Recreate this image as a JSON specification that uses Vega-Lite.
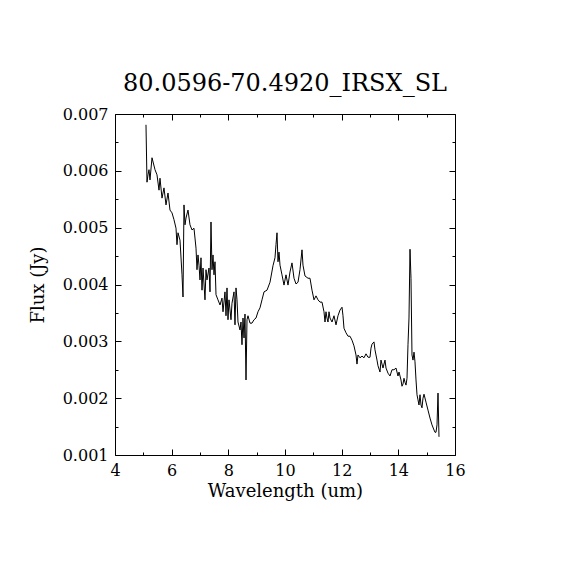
{
  "$schema": "https://vega.github.io/schema/vega-lite/v6.json",
  "autosize": "none",
  "width": 340,
  "height": 341,
  "padding": {"left": 115, "top": 114, "right": 115, "bottom": 115},
  "background": "white",
  "title": {"text": "80.0596-70.4920_IRSX_SL", "font": "DejaVu Serif", "fontSize": 24, "fontWeight": "normal", "color": "black", "offset": 10},
  "data": {"values": [
    {"w":5.094,"f":0.00681},{"w":5.129,"f":0.00580},{"w":5.165,"f":0.00593},{"w":5.200,"f":0.00602},{"w":5.235,"f":0.00584},
    {"w":5.306,"f":0.00623},{"w":5.412,"f":0.00602},{"w":5.482,"f":0.00593},{"w":5.553,"f":0.00566},{"w":5.588,"f":0.00587},
    {"w":5.659,"f":0.00552},{"w":5.729,"f":0.00570},{"w":5.800,"f":0.00540},{"w":5.871,"f":0.00561},{"w":5.941,"f":0.00531},
    {"w":6.012,"f":0.00526},{"w":6.082,"f":0.00514},{"w":6.153,"f":0.00499},{"w":6.188,"f":0.00470},{"w":6.224,"f":0.00491},
    {"w":6.294,"f":0.00478},{"w":6.365,"f":0.00417},{"w":6.400,"f":0.00378},{"w":6.435,"f":0.00540},{"w":6.471,"f":0.00505},
    {"w":6.506,"f":0.00517},{"w":6.576,"f":0.00531},{"w":6.647,"f":0.00505},{"w":6.718,"f":0.00496},{"w":6.788,"f":0.00499},
    {"w":6.859,"f":0.00464},{"w":6.894,"f":0.00426},{"w":6.929,"f":0.00452},{"w":6.965,"f":0.00434},{"w":7.000,"f":0.00408},
    {"w":7.035,"f":0.00447},{"w":7.071,"f":0.00390},{"w":7.106,"f":0.00429},{"w":7.176,"f":0.00373},{"w":7.212,"f":0.00426},
    {"w":7.247,"f":0.00408},{"w":7.318,"f":0.00429},{"w":7.353,"f":0.00387},{"w":7.388,"f":0.00510},{"w":7.424,"f":0.00426},
    {"w":7.459,"f":0.00452},{"w":7.494,"f":0.00417},{"w":7.529,"f":0.00440},{"w":7.565,"f":0.00382},{"w":7.635,"f":0.00373},
    {"w":7.706,"f":0.00364},{"w":7.776,"f":0.00376},{"w":7.812,"f":0.00352},{"w":7.882,"f":0.00387},{"w":7.918,"f":0.00345},
    {"w":7.953,"f":0.00394},{"w":7.988,"f":0.00338},{"w":8.024,"f":0.00373},{"w":8.094,"f":0.00338},{"w":8.129,"f":0.00367},
    {"w":8.200,"f":0.00387},{"w":8.235,"f":0.00329},{"w":8.271,"f":0.00394},{"w":8.306,"f":0.00373},{"w":8.341,"f":0.00334},
    {"w":8.412,"f":0.00320},{"w":8.447,"f":0.00334},{"w":8.482,"f":0.00294},{"w":8.518,"f":0.00341},{"w":8.553,"f":0.00306},
    {"w":8.588,"f":0.00348},{"w":8.624,"f":0.00232},{"w":8.659,"f":0.00338},{"w":8.694,"f":0.00345},{"w":8.765,"f":0.00332},
    {"w":8.835,"f":0.00332},{"w":8.906,"f":0.00338},{"w":8.976,"f":0.00341},{"w":9.047,"f":0.00352},{"w":9.118,"f":0.00359},
    {"w":9.188,"f":0.00373},{"w":9.259,"f":0.00387},{"w":9.365,"f":0.00390},{"w":9.471,"f":0.00404},{"w":9.576,"f":0.00433},
    {"w":9.647,"f":0.00447},{"w":9.682,"f":0.00470},{"w":9.718,"f":0.00491},{"w":9.753,"f":0.00440},{"w":9.788,"f":0.00457},
    {"w":9.824,"f":0.00434},{"w":9.894,"f":0.00417},{"w":9.965,"f":0.00399},{"w":10.035,"f":0.00417},{"w":10.106,"f":0.00399},
    {"w":10.176,"f":0.00422},{"w":10.247,"f":0.00438},{"w":10.318,"f":0.00411},{"w":10.388,"f":0.00401},{"w":10.459,"f":0.00404},
    {"w":10.529,"f":0.00426},{"w":10.600,"f":0.00461},{"w":10.635,"f":0.00434},{"w":10.706,"f":0.00415},{"w":10.812,"f":0.00411},
    {"w":10.882,"f":0.00411},{"w":10.953,"f":0.00390},{"w":11.024,"f":0.00373},{"w":11.094,"f":0.00380},{"w":11.165,"f":0.00373},
    {"w":11.235,"f":0.00369},{"w":11.306,"f":0.00369},{"w":11.376,"f":0.00352},{"w":11.412,"f":0.00334},{"w":11.447,"f":0.00352},
    {"w":11.482,"f":0.00341},{"w":11.518,"f":0.00334},{"w":11.553,"f":0.00352},{"w":11.588,"f":0.00341},{"w":11.659,"f":0.00334},
    {"w":11.729,"f":0.00345},{"w":11.800,"f":0.00329},{"w":11.871,"f":0.00345},{"w":11.941,"f":0.00355},{"w":12.012,"f":0.00360},
    {"w":12.047,"f":0.00345},{"w":12.082,"f":0.00323},{"w":12.153,"f":0.00315},{"w":12.224,"f":0.00309},{"w":12.294,"f":0.00309},
    {"w":12.365,"f":0.00302},{"w":12.435,"f":0.00292},{"w":12.506,"f":0.00276},{"w":12.541,"f":0.00260},{"w":12.576,"f":0.00276},
    {"w":12.647,"f":0.00271},{"w":12.718,"f":0.00274},{"w":12.788,"f":0.00271},{"w":12.859,"f":0.00278},{"w":12.929,"f":0.00272},
    {"w":13.000,"f":0.00272},{"w":13.035,"f":0.00288},{"w":13.071,"f":0.00295},{"w":13.141,"f":0.00299},{"w":13.176,"f":0.00285},
    {"w":13.247,"f":0.00267},{"w":13.282,"f":0.00257},{"w":13.353,"f":0.00246},{"w":13.388,"f":0.00267},{"w":13.459,"f":0.00253},
    {"w":13.529,"f":0.00267},{"w":13.565,"f":0.00253},{"w":13.635,"f":0.00244},{"w":13.706,"f":0.00239},{"w":13.776,"f":0.00250},
    {"w":13.847,"f":0.00250},{"w":13.918,"f":0.00253},{"w":13.988,"f":0.00239},{"w":14.024,"f":0.00246},{"w":14.059,"f":0.00239},
    {"w":14.094,"f":0.00232},{"w":14.129,"f":0.00221},{"w":14.165,"f":0.00225},{"w":14.200,"f":0.00235},{"w":14.235,"f":0.00228},
    {"w":14.271,"f":0.00223},{"w":14.306,"f":0.00235},{"w":14.341,"f":0.00294},{"w":14.376,"f":0.00341},{"w":14.412,"f":0.00462},
    {"w":14.447,"f":0.00411},{"w":14.482,"f":0.00276},{"w":14.518,"f":0.00267},{"w":14.553,"f":0.00281},{"w":14.588,"f":0.00264},
    {"w":14.624,"f":0.00232},{"w":14.659,"f":0.00206},{"w":14.694,"f":0.00197},{"w":14.729,"f":0.00188},{"w":14.765,"f":0.00206},
    {"w":14.800,"f":0.00188},{"w":14.835,"f":0.00183},{"w":14.871,"f":0.00200},{"w":14.906,"f":0.00207},{"w":14.976,"f":0.00193},
    {"w":15.047,"f":0.00179},{"w":15.118,"f":0.00165},{"w":15.188,"f":0.00153},{"w":15.259,"f":0.00144},{"w":15.294,"f":0.00140},
    {"w":15.329,"f":0.00140},{"w":15.365,"f":0.00153},{"w":15.400,"f":0.00209},{"w":15.435,"f":0.00132}
  ]},
  "layer": [
    {
      "mark": {"type": "line", "color": "black", "strokeWidth": 1, "interpolate": "linear"},
      "encoding": {
        "x": {"field": "w", "type": "quantitative", "scale": {"domain": [4, 16], "nice": false, "zero": false},
              "axis": {"orient": "bottom", "values": [4, 6, 8, 10, 12, 14, 16], "format": "d", "tickSize": -6, "labelPadding": 13, "title": "Wavelength (um)", "titlePadding": 4, "labelFlush": false}},
        "y": {"field": "f", "type": "quantitative", "scale": {"domain": [0.001, 0.007], "nice": false, "zero": false},
              "axis": {"orient": "left", "values": [0.001, 0.002, 0.003, 0.004, 0.005, 0.006, 0.007], "format": ".3f", "tickSize": -6, "labelPadding": 13, "title": "Flux (Jy)", "titlePadding": 15, "labelFlush": false}}
      }
    },
    {
      "mark": {"type": "line", "opacity": 0},
      "encoding": {
        "x": {"field": "w", "type": "quantitative", "axis": {"orient": "bottom", "values": [5, 7, 9, 11, 13, 15], "tickSize": -3, "labels": false, "title": null}},
        "y": {"field": "f", "type": "quantitative", "axis": {"orient": "left", "values": [0.0015, 0.0025, 0.0035, 0.0045, 0.0055, 0.0065], "tickSize": -3, "labels": false, "title": null}}
      }
    },
    {
      "mark": {"type": "line", "opacity": 0},
      "encoding": {
        "x": {"field": "w", "type": "quantitative", "axis": {"orient": "top", "values": [4, 6, 8, 10, 12, 14, 16], "tickSize": -6, "labels": false, "title": null}},
        "y": {"field": "f", "type": "quantitative", "axis": {"orient": "right", "values": [0.001, 0.002, 0.003, 0.004, 0.005, 0.006, 0.007], "tickSize": -6, "labels": false, "title": null}}
      }
    },
    {
      "mark": {"type": "line", "opacity": 0},
      "encoding": {
        "x": {"field": "w", "type": "quantitative", "axis": {"orient": "top", "values": [5, 7, 9, 11, 13, 15], "tickSize": -3, "labels": false, "title": null}},
        "y": {"field": "f", "type": "quantitative", "axis": {"orient": "right", "values": [0.0015, 0.0025, 0.0035, 0.0045, 0.0055, 0.0065], "tickSize": -3, "labels": false, "title": null}}
      }
    }
  ],
  "resolve": {"axis": {"x": "independent", "y": "independent"}},
  "config": {
    "view": {"stroke": "black", "strokeWidth": 1},
    "axis": {"domain": false, "grid": false, "tickColor": "black", "tickWidth": 1, "labelColor": "black", "titleColor": "black",
             "labelFont": "DejaVu Serif", "titleFont": "DejaVu Serif", "labelFontSize": 16, "titleFontSize": 18, "titleFontWeight": "normal"}
  }
}
